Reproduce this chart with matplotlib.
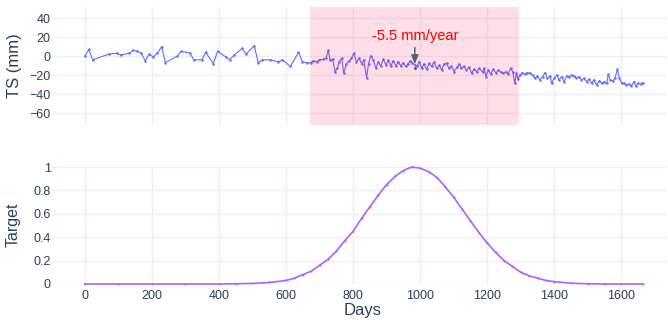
import matplotlib
matplotlib.use("Agg")
import matplotlib.pyplot as plt

plt.rcParams["font.family"] = ["Liberation Sans", "DejaVu Sans"]

# ---- data -------------------------------------------------------------
ts_days = [
    0, 12, 23, 72, 96, 107, 132, 144, 156, 168,
    180, 192, 204, 216, 229, 240, 276, 288, 313, 325,
    349, 360, 383, 396, 420, 432, 445, 469, 481, 505,
    517, 529, 553, 577, 589, 613, 637, 649, 661,
    674, 681, 691, 699, 711, 719, 726, 731, 739, 746,
    753, 758, 766, 772, 780, 788, 795, 802, 810, 818,
    825, 832, 840, 846, 852, 860, 868, 875, 882, 890,
    898, 905, 912, 919, 928, 934, 942, 949, 957, 964,
    971, 977, 984, 991, 997, 1004, 1011, 1019, 1027, 1034,
    1041, 1049, 1057, 1064, 1071, 1079, 1086, 1093, 1101, 1109,
    1116, 1123, 1130, 1138, 1146, 1153, 1160, 1168, 1176,
    1186, 1191, 1196, 1203, 1210, 1218, 1226, 1233, 1240, 1248,
    1256, 1262, 1270, 1276, 1282, 1287, 1292, 1297, 1305, 1312,
    1319, 1327, 1335, 1342, 1349, 1357, 1365, 1372, 1379, 1387,
    1392, 1399, 1407, 1414, 1422, 1429, 1437, 1444, 1452, 1459,
    1466, 1474, 1481, 1488, 1496, 1503, 1511, 1518, 1526, 1534,
    1541, 1548, 1556, 1561, 1566, 1574, 1581, 1588, 1594, 1601,
    1608, 1615, 1623, 1630, 1637, 1643, 1650, 1657, 1663,
]
ts_mm = [
    0, 7, -4, 2, 3, 1, 3, 6, 5, 3,
    -5, 2, -1, 3, 10, -7, 0, 5, 3, -4,
    -4, 4, -8, 5, -1, -4, 1, 8, 2, 11,
    -7, -4, -4, -6, -4, -11, 4, -6, -7,
    -7, -5, -6, -4, -3.5, -2.5, 6, -4, -3.5, -16.5,
    -13, -6, -2.5, -18, -8, -5, -2.5, 3, -6, -2.5,
    -8, -4, -23, -8, 0, -4, -13, -6, -10.5, -3.5,
    -9.5, -4, -11, -5, -10.5, -6, -10.5, -7, -11, -8,
    -5, -7, -9.5, -11, -6, -13, -8.4, -14, -7.7, -11,
    -6, -13, -9.5, -14.7, -8.4, -7.7, -13, -10.5, -16.5, -12,
    -8.4, -13, -11, -14.7, -12, -18, -14, -16.5, -13,
    -16.5, -13, -21.7, -14.7, -19, -14, -18, -14.7, -16.5, -18,
    -16.5, -19, -13, -16.5, -28.7, -18, -24.5, -20, -17.5, -19,
    -17.5, -18, -20, -23.5, -21, -25, -21.7, -17.5, -23.5, -21,
    -28.7, -23.5, -20, -25, -21.7, -27, -21, -21.7, -20, -21,
    -23.5, -21.7, -25, -23.5, -27, -24.5, -28.7, -25, -30.5, -26,
    -28.7, -27, -28.7, -19, -25, -26, -23.5, -14, -23.5, -28.7,
    -28.7, -30.5, -29.5, -31.5, -27, -31.5, -28.7, -29.5, -28,
]

target_days = [
    0, 100, 200, 300, 400, 450, 500, 550, 600, 625,
    650, 675, 700, 725, 750, 775, 800, 825, 850, 875,
    900, 925, 950, 975, 1000, 1025, 1050, 1075, 1100, 1125,
    1150, 1175, 1200, 1225, 1250, 1275, 1300, 1325, 1350, 1375,
    1400, 1450, 1500, 1550, 1600, 1663,
]
target_values = [
    0, 0, 0, 0, 0, 0.002, 0.005, 0.013, 0.03, 0.05,
    0.08, 0.11, 0.16, 0.21, 0.28, 0.37, 0.45, 0.56, 0.66, 0.76,
    0.85, 0.92, 0.97, 1.0, 0.99, 0.96, 0.91, 0.83, 0.74, 0.64,
    0.54, 0.44, 0.35, 0.27, 0.20, 0.15, 0.10, 0.07, 0.05, 0.03,
    0.02, 0.007, 0.002, 0, 0, 0,
]

window_start, window_end = 671, 1294
rate_label = "-5.5 mm/year"
rate_point_day, rate_point_mm = 984, -13

x_ticks = [0, 200, 400, 600, 800, 1000, 1200, 1400, 1600]
ts_ticks = [-60, -40, -20, 0, 20, 40]
target_ticks = [0, 0.2, 0.4, 0.6, 0.8, 1]
target_tick_labels = ["0", "0.2", "0.4", "0.6", "0.8", "1"]

# ---- figure -----------------------------------------------------------
W, H = 668, 324
fig = plt.figure(figsize=(W / 100, H / 100), dpi=100)

GRID = "#EBF0F8"
TEXT = "#2a3f5f"


def axes_px(left, top, right, bottom):
    return fig.add_axes([left / W, 1 - bottom / H, (right - left) / W, (bottom - top) / H])


def style(ax):
    for s in ax.spines.values():
        s.set_visible(False)
    ax.grid(True, color=GRID, lw=1.0, zorder=0)
    ax.set_axisbelow(True)
    ax.tick_params(length=0, labelcolor=TEXT, labelsize=9)
    ax.set_xlim(-98, 1733)
    ax.set_xticks(x_ticks)


ax1 = axes_px(52, 7, 666, 125)
ax2 = axes_px(52, 167, 666, 284)
style(ax1)
style(ax2)

# top panel: time series
ax1.plot(ts_days, ts_mm, color="#636EFA", lw=0.8, marker="o", ms=1.8,
         mew=0, zorder=3)
ax1.axvspan(window_start, window_end, color=(1.0, 0.0, 0.3), alpha=0.13,
            lw=0, zorder=5)
ax1.plot([rate_point_day], [rate_point_mm], "o", color="#2e6b1f", ms=2,
         mew=0, zorder=6)
ax1.annotate(rate_label, xy=(rate_point_day, rate_point_mm),
             xytext=(0, 32), textcoords="offset pixels",
             ha="center", va="center", color="red", fontsize=10.5,
             zorder=7,
             arrowprops=dict(arrowstyle="-|>,head_length=0.5,head_width=0.2",
                             color="#5a5f6e", lw=1.1, shrinkA=1, shrinkB=3))
ax1.set_ylim(-72.6, 51.6)
ax1.set_yticks(ts_ticks)
ax1.set_yticklabels([str(v).replace("-", "\u2212") for v in ts_ticks])
ax1.tick_params(axis="x", labelbottom=False)
ax1.tick_params(axis="y", pad=1)

# bottom panel: target curve
ax2.plot(target_days, target_values, color="#AB63FA", lw=1.2, marker="o",
         ms=1.5, mew=0, zorder=3, clip_on=False)
ax2.set_ylim(0, 1)
ax2.set_yticks(target_ticks)
ax2.set_yticklabels(target_tick_labels)
ax2.tick_params(axis="y", pad=1)
ax2.tick_params(axis="x", pad=4)

# axis titles
fig.text(15 / W, 1 - 66 / H, "TS (mm)", rotation=90, ha="center", va="center",
         color=TEXT, fontsize=12)
fig.text(13 / W, 1 - 225 / H, "Target", rotation=90, ha="center", va="center",
         color=TEXT, fontsize=11.5)
fig.text(363 / W, 1 - 310 / H, "Days", ha="center", va="center",
         color=TEXT, fontsize=12)

fig.savefig("out.png", dpi=100)
